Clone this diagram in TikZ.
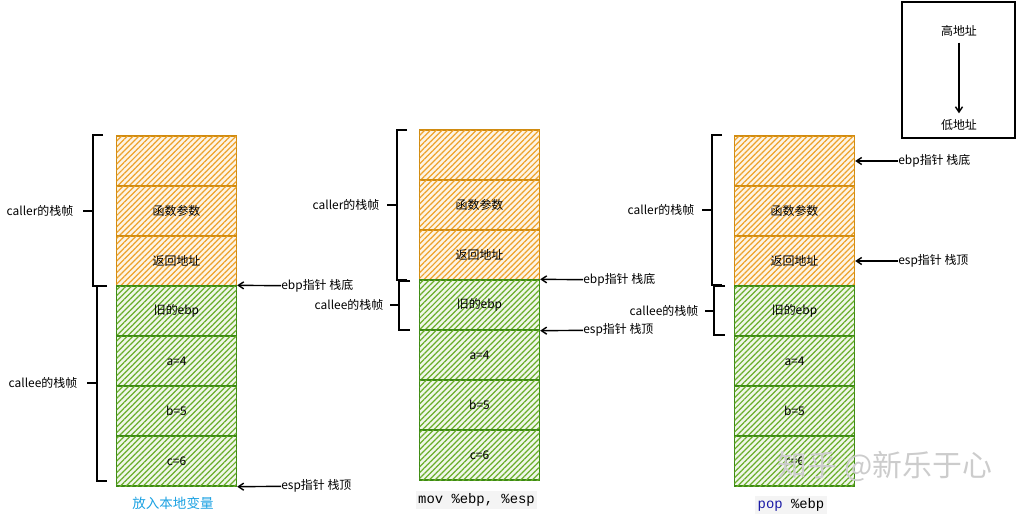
\documentclass[tikz,border=0pt]{standalone}
\usepackage{fontspec}
\setmainfont{Noto Sans CJK SC}
\newfontfamily\monofont{Liberation Mono}
\usetikzlibrary{arrows.meta,patterns.meta}

\definecolor{callerfill}{HTML}{EEA22A}
\definecolor{callerdraw}{HTML}{D08B10}
\definecolor{calleefill}{HTML}{6AAE2A}
\definecolor{calleedraw}{HTML}{3C8A14}
\definecolor{notecyan}{HTML}{1BA1E2}
\definecolor{codegray}{HTML}{F4F4F4}
\definecolor{kwblue}{HTML}{1A1AA6}

\tikzset{
  every node/.style={font=\fontsize{6.8}{8}\selectfont},
  cell/.style={draw, line width=0.8pt, minimum width=2.4cm, minimum height=1cm, inner sep=0pt},
  callercell/.style={cell, draw=callerdraw, fill=callerfill!12,
    postaction={pattern={Lines[angle=45,distance=2.3pt,line width=0.7pt]}, pattern color=callerfill}},
  calleecell/.style={cell, draw=calleedraw, fill=calleefill!10,
    postaction={pattern={Lines[angle=45,distance=2.3pt,line width=0.7pt]}, pattern color=calleefill}},
  brk/.style={line width=0.8pt},
  ptr/.style={line width=0.8pt, -{Straight Barb[length=3pt,width=4pt]}},
  ptrlbl/.style={anchor=west, inner sep=0pt},
  code/.style={font=\monofont\fontsize{7.9}{9}\selectfont, fill=codegray, inner sep=1.5pt}
}

\begin{document}
\begin{tikzpicture}[x=0.02cm, y=-0.02cm]
  \useasboundingbox (0,0) rectangle (1022,515);
  % the three stacks
  \foreach \s/\x/\y in {l/176.5/161, m/479.5/155, r/794.5/161} {
    \node[callercell] (\s1) at (\x,\y) {};
    \node[callercell] (\s2) at (\x,\y+50) {函数参数};
    \node[callercell] (\s3) at (\x,\y+100) {返回地址};
    \node[calleecell] (\s4) at (\x,\y+150) {旧的ebp};
    \node[calleecell] (\s5) at (\x,\y+200) {a=4};
    \node[calleecell] (\s6) at (\x,\y+250) {b=5};
    \node[calleecell] (\s7) at (\x,\y+300) {c=6};
  }

  % frames
  \draw[brk] (103,135) -| (93,286) -- (103,286) (93,211) -- (83,211);
  \draw[brk] (107,286) -| (97,481) -- (107,481) (97,383) -- (87,383);
  \draw[brk] (407,130) -| (397,280) -- (407,280) (397,205) -- (387,205);
  \draw[brk] (410,281) -| (399,330) -- (410,330) (399,305) -- (390,305);
  \draw[brk] (722,135) -| (712,285) -- (722,285) (712,210) -- (702,210);
  \draw[brk] (725,286) -| (714,335) -- (725,335) (714,311) -- (705,311);
  \node (lcaller) at (40,211) {caller的栈帧};
  \node (lcallee) at (43,383) {callee的栈帧};
  \node (mcaller) at (346,205) {caller的栈帧};
  \node (mcallee) at (349,305) {callee的栈帧};
  \node (rcaller) at (661,210) {caller的栈帧};
  \node (rcallee) at (664,311) {callee的栈帧};

  % pointers
  \node[ptrlbl] (lebp) at (281,286) {ebp指针 栈底};
  \node[ptrlbl] (lesp) at (281,486) {esp指针 栈顶};
  \node[ptrlbl] (mebp) at (583,280) {ebp指针 栈底};
  \node[ptrlbl] (mesp) at (583,330) {esp指针 栈顶};
  \node[ptrlbl] (rebp) at (898,161) {ebp指针 栈底};
  \node[ptrlbl] (resp) at (898,261) {esp指针 栈顶};
  \draw[ptr] (lebp) -- (l4.north east);
  \draw[ptr] (lesp) -- (l7.south east);
  \draw[ptr] (mebp) -- (m4.north east);
  \draw[ptr] (mesp) -- (m4.south east);
  \draw[ptr] (rebp) -- (r1.east);
  \draw[ptr] (resp) -- (r3.east);

  % address direction
  \node[draw, line width=1pt, minimum width=2.26cm, minimum height=2.72cm] (legend) at (958.5,70) {};
  \node (high) at (959,31) {高地址};
  \node (low) at (959,125) {低地址};
  \draw[ptr] (high) -- (low);

  % captions
  \node[font=\fontsize{7.7}{9}\selectfont, text=notecyan] (note1) at (173,503) {放入本地变量};
  \node[code] (note2) at (476.5,500) {mov \%ebp, \%esp};
  \node[code] (note3) at (791,505) {\textcolor{kwblue}{pop} \%ebp};

  \node[font=\fontsize{17}{19}\selectfont, text=gray!40] (mark) at (885,466) {知乎 @新乐于心};
\end{tikzpicture}
\end{document}
